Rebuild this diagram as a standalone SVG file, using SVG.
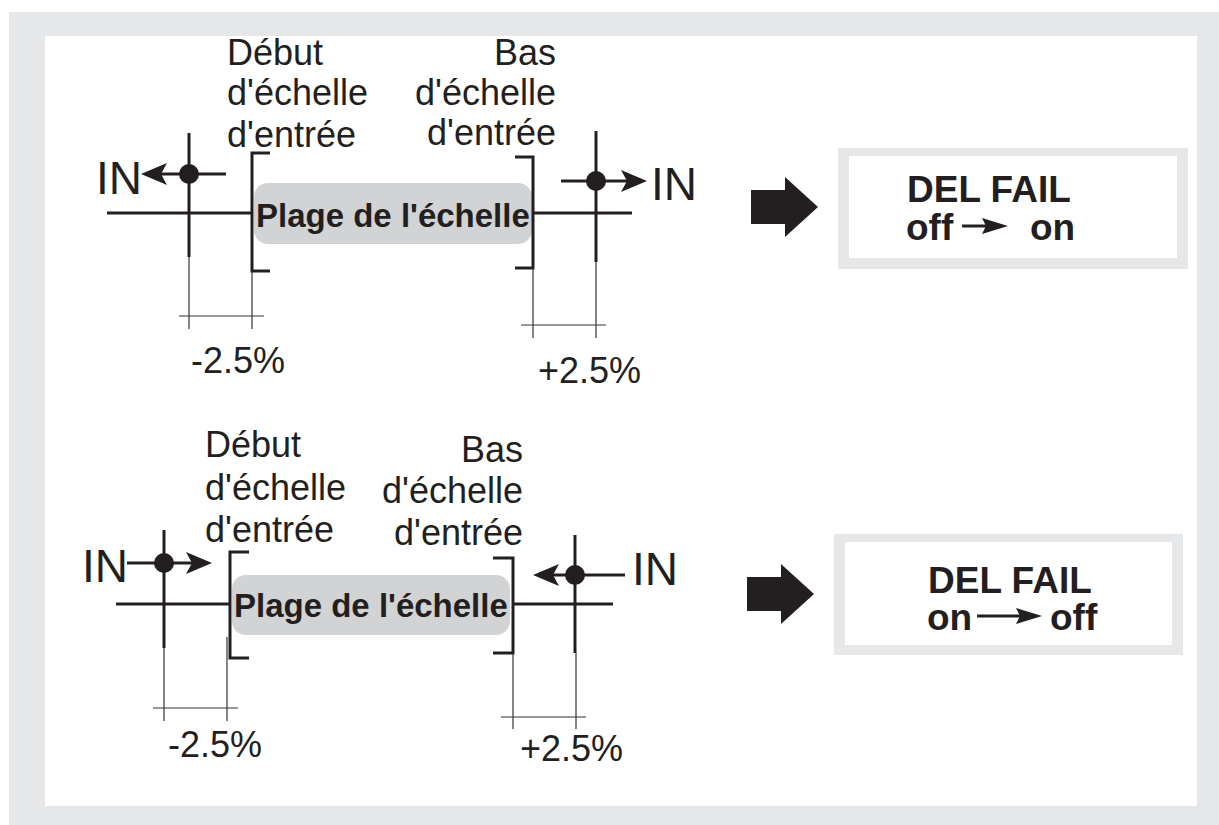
<svg xmlns="http://www.w3.org/2000/svg" width="1219" height="825" viewBox="0 0 1219 825">
<style>
.t{font-family:"Liberation Sans",Arial,sans-serif;font-size:36px;fill:#231f20}
.in{font-family:"Liberation Sans",Arial,sans-serif;font-size:46px;fill:#231f20}
.b{font-family:"Liberation Sans",Arial,sans-serif;font-weight:bold;fill:#231f20}
.thick{stroke:#231f20;stroke-width:3;fill:none}
.thin{stroke:#333333;stroke-width:1.2;fill:none}
.range{fill:#d1d3d4}
.frame{fill:#e6e7e8}
</style>
<defs>
<marker id="ah" viewBox="0 0 26 22" refX="16" refY="11" markerWidth="26" markerHeight="22" markerUnits="userSpaceOnUse" orient="auto">
<path d="M0,0 L26,11 L0,22 L6,11 z" fill="#231f20"/>
</marker>
<marker id="sah" viewBox="0 0 26 16" refX="16" refY="8" markerWidth="26" markerHeight="16" markerUnits="userSpaceOnUse" orient="auto">
<path d="M0,0 L26,8 L0,16 L4,8 z" fill="#231f20"/>
</marker>
<path id="block" d="M0,-17 L34,-17 L34,-30 L67,0 L34,30 L34,17 L0,17 z" fill="#231f20"/>
</defs>
<rect class="frame" x="9" y="12" width="1210" height="813"/>
<rect x="45" y="36" width="1152" height="770" fill="#ffffff"/>

<g id="top-scale">
<rect class="range" x="254" y="183" width="278" height="61" rx="14"/>
<text class="b" x="256" y="227" font-size="33">Plage de l'échelle</text>
<path class="thick" d="M270,153 L252,153 L252,271 L270,271"/>
<path class="thick" d="M515,157 L533,157 L533,268 L515,268"/>
</g>
<g id="top-labels">
<text class="t" x="227" y="65">Début</text>
<text class="t" x="227" y="105">d'échelle</text>
<text class="t" x="227" y="147">d'entrée</text>
<text class="t" x="556" y="65" text-anchor="end">Bas</text>
<text class="t" x="556" y="105" text-anchor="end">d'échelle</text>
<text class="t" x="556" y="145" text-anchor="end">d'entrée</text>
</g>
<g id="top-left-input">
<text class="in" x="96" y="194">IN</text>
<circle cx="189" cy="174" r="10" fill="#231f20"/>
</g>
<g id="top-right-input">
<text class="in" x="651" y="200">IN</text>
<circle cx="596" cy="181" r="10" fill="#231f20"/>
</g>
<g id="top-left-pct"><text class="t" x="191" y="373">-2.5%</text></g>
<g id="top-right-pct"><text class="t" x="538" y="383">+2.5%</text></g>
<g id="top-result">
<use href="#block" x="751" y="207"/>
<rect class="frame" x="838" y="148" width="350" height="121"/>
<rect x="849" y="156" width="328" height="102" fill="#ffffff"/>
<text class="b" x="907" y="202" font-size="37">DEL FAIL</text>
<text class="b" x="906" y="240" font-size="37">off</text>
<text class="b" x="1030" y="240" font-size="37">on</text>
</g>

<g id="bottom-scale">
<rect class="range" x="232" y="575" width="278" height="60" rx="14"/>
<text class="b" x="234" y="617" font-size="33">Plage de l'échelle</text>
<path class="thick" d="M249,552 L230,552 L230,658 L249,658"/>
<path class="thick" d="M493,558 L513,558 L513,653 L493,653"/>
</g>
<g id="bottom-labels">
<text class="t" x="205" y="457">Début</text>
<text class="t" x="205" y="500">d'échelle</text>
<text class="t" x="205" y="542">d'entrée</text>
<text class="t" x="523" y="462" text-anchor="end">Bas</text>
<text class="t" x="523" y="503" text-anchor="end">d'échelle</text>
<text class="t" x="523" y="545" text-anchor="end">d'entrée</text>
</g>
<g id="bottom-left-input">
<text class="in" x="82" y="582">IN</text>
<circle cx="164" cy="563" r="10" fill="#231f20"/>
</g>
<g id="bottom-right-input">
<text class="in" x="632" y="585">IN</text>
<circle cx="575" cy="575" r="10" fill="#231f20"/>
</g>
<g id="bottom-left-pct"><text class="t" x="168" y="757">-2.5%</text></g>
<g id="bottom-right-pct"><text class="t" x="520" y="761">+2.5%</text></g>
<g id="bottom-result">
<use href="#block" x="747" y="594"/>
<rect class="frame" x="834" y="534" width="349" height="121"/>
<rect x="845" y="542" width="327" height="103" fill="#ffffff"/>
<text class="b" x="928" y="593" font-size="37">DEL FAIL</text>
<text class="b" x="927" y="630" font-size="37">on</text>
<text class="b" x="1050" y="630" font-size="37">off</text>
</g>

<g id="connectors">
<!-- top -->
<line class="thick" x1="107" y1="213" x2="252" y2="213"/>
<line class="thick" x1="533" y1="213" x2="632" y2="213"/>
<line class="thick" x1="189" y1="133" x2="189" y2="257"/>
<line class="thick" x1="596" y1="131" x2="596" y2="262"/>
<line class="thick" x1="226" y1="174" x2="151" y2="174" marker-end="url(#ah)"/>
<line class="thick" x1="561" y1="181" x2="637" y2="181" marker-end="url(#ah)"/>
<line class="thin" x1="189" y1="257" x2="189" y2="329"/>
<line class="thin" x1="252" y1="271" x2="252" y2="329"/>
<line class="thin" x1="179" y1="316" x2="264" y2="316"/>
<line class="thin" x1="533" y1="268" x2="533" y2="338"/>
<line class="thin" x1="596" y1="262" x2="596" y2="338"/>
<line class="thin" x1="521" y1="325" x2="606" y2="325"/>
<line class="thick" x1="962" y1="226" x2="998" y2="226" marker-end="url(#sah)"/>
<!-- bottom -->
<line class="thick" x1="116" y1="604" x2="230" y2="604"/>
<line class="thick" x1="513" y1="604" x2="613" y2="604"/>
<line class="thick" x1="164" y1="530" x2="164" y2="648"/>
<line class="thick" x1="575" y1="535" x2="575" y2="653"/>
<line class="thick" x1="127" y1="563" x2="202" y2="563" marker-end="url(#ah)"/>
<line class="thick" x1="625" y1="575" x2="543" y2="575" marker-end="url(#ah)"/>
<line class="thin" x1="164" y1="648" x2="164" y2="721"/>
<line class="thin" x1="227" y1="637" x2="227" y2="721"/>
<line class="thin" x1="153" y1="708" x2="238" y2="708"/>
<line class="thin" x1="513" y1="653" x2="513" y2="729"/>
<line class="thin" x1="576" y1="653" x2="576" y2="729"/>
<line class="thin" x1="501" y1="717" x2="586" y2="717"/>
<line class="thick" x1="977" y1="616" x2="1032" y2="616" marker-end="url(#sah)"/>
</g>
</svg>
